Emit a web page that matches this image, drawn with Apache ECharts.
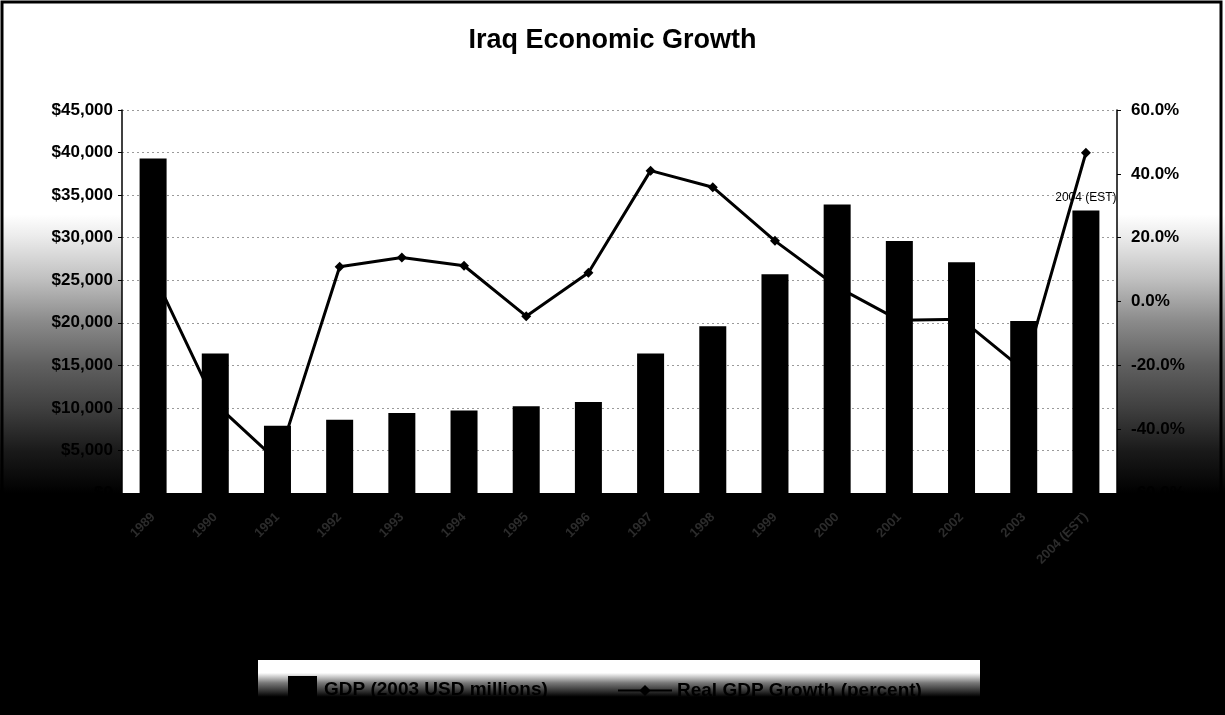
<!DOCTYPE html>
<html>
<head>
<meta charset="utf-8">
<script src="https://cdn.jsdelivr.net/npm/echarts@6/dist/echarts.min.js"></script>
<style>
html,body{margin:0;padding:0;background:#fff;}
#chart{width:1225px;height:715px;}
</style>
</head>
<body>
<div id="chart"></div>
<script>
var titleText = 'Iraq Economic Growth';
var categories = ['1989','1990','1991','1992','1993','1994','1995','1996','1997','1998','1999','2000','2001','2002','2003','2004 (EST)'];
var gdpName = 'GDP (2003 USD millions)';
var gdp = [39300, 16400, 7900, 8600, 9400, 9700, 10200, 10700, 16400, 19600, 25700, 33900, 29600, 27100, 20200, 33200];
var growthName = 'Real GDP Growth (percent)';
var growth = [9.0, -32.0, -50.0, 10.9, 13.8, 11.2, -4.6, 9.0, 41.0, 35.8, 19.0, 4.6, -5.9, -5.6, -21.5, 46.6];
var gdpTicks = {min: 0, max: 45000, interval: 5000};
var growthTicks = {min: -60, max: 60, interval: 20};

var FONT = 'Arial, "Liberation Sans", sans-serif';
var chart = echarts.init(document.getElementById('chart'));

var gdpData = gdp.map(function (v, i) {
  if (i === gdp.length - 1) {
    return {value: v, label: {show: true, position: 'top', distance: 7,
      formatter: categories[i], color: '#000', fontSize: 12, fontFamily: FONT}};
  }
  return v;
});

chart.setOption({
  backgroundColor: '#ffffff',
  animation: false,
  title: {
    text: titleText, left: 'center', top: 22,
    textStyle: {fontFamily: FONT, fontSize: 27, fontWeight: 'bold', color: '#000'}
  },
  graphic: [
    {type: 'rect', z: -100, silent: true, shape: {x: 0, y: 0, width: 1225, height: 715},
      style: {fill: {type: 'linear', x: 0, y: 0, x2: 0, y2: 1, global: false,
        colorStops: [
          {offset: 0, color: '#ffffff'},
          {offset: 0.30, color: '#ffffff'},
          {offset: 0.33, color: '#ececec'},
          {offset: 0.39, color: '#c0c0c0'},
          {offset: 0.45, color: '#8a8a8a'},
          {offset: 0.51, color: '#606060'},
          {offset: 0.57, color: '#404040'},
          {offset: 0.63, color: '#1a1a1a'},
          {offset: 0.69, color: '#000000'},
          {offset: 1, color: '#000000'}
        ]}}},
    {type: 'rect', z: -1, silent: true, shape: {x: 258, y: 660, width: 722, height: 46},
      style: {fill: {type: 'linear', x: 0, y: 0, x2: 0, y2: 1,
        colorStops: [{offset: 0, color: '#ffffff'}, {offset: 0.28, color: '#ffffff'},
          {offset: 0.5, color: '#777'}, {offset: 0.8, color: '#000'}, {offset: 1, color: '#000'}]}}},
    {type: 'rect', z: 100, silent: true, shape: {x: 2, y: 2, width: 1219, height: 710},
      style: {fill: 'none', stroke: '#000', lineWidth: 3}}
  ],
  legend: [
    {data: [gdpName], left: 283, top: 671, itemWidth: 29, itemHeight: 28, itemGap: 6,
      icon: 'rect',
      textStyle: {fontFamily: FONT, fontSize: 19, fontWeight: 'bold', color: '#000', padding: [0,0,0,2]}},
    {data: [growthName], left: 612, top: 676, itemWidth: 54, itemHeight: 14,
      textStyle: {fontFamily: FONT, fontSize: 19, fontWeight: 'bold', color: '#000'}}
  ],
  grid: {left: 122, right: 108, top: 110, bottom: 222, show: true, backgroundColor: '#ffffff', borderWidth: 0},
  xAxis: {
    type: 'category', data: categories,
    axisLine: {lineStyle: {color: '#000', width: 1}},
    axisTick: {show: false},
    axisLabel: {rotate: 45, margin: 22, color: '#2c2c2c', fontFamily: FONT, fontSize: 13, fontWeight: 'bold'}
  },
  yAxis: [
    {type: 'value', min: gdpTicks.min, max: gdpTicks.max, interval: gdpTicks.interval,
      axisLine: {show: true, lineStyle: {color: '#000', width: 1.5}},
      axisTick: {show: true, length: 4, lineStyle: {color: '#000'}},
      splitLine: {show: true, lineStyle: {color: '#9a9a9a', type: [2, 3], width: 1}},
      axisLabel: {margin: 9, color: '#000', fontFamily: FONT, fontSize: 17, fontWeight: 'bold',
        formatter: function (v) { return '$' + v.toLocaleString('en-US'); }}},
    {type: 'value', min: growthTicks.min, max: growthTicks.max, interval: growthTicks.interval,
      position: 'right',
      axisLine: {show: true, lineStyle: {color: '#000', width: 1.5}},
      axisTick: {show: true, length: 4, lineStyle: {color: '#000'}},
      splitLine: {show: false},
      axisLabel: {margin: 14, color: '#000', fontFamily: FONT, fontSize: 17, fontWeight: 'bold',
        formatter: function (v) { return v.toFixed(1) + '%'; }}}
  ],
  series: [
    {name: gdpName, type: 'bar', data: gdpData, yAxisIndex: 0, z: 3,
      barWidth: 27, itemStyle: {color: '#000'}},
    {name: growthName, type: 'line', data: growth, yAxisIndex: 1, z: 2,
      symbol: 'diamond', symbolSize: 10,
      lineStyle: {color: '#000', width: 3}, itemStyle: {color: '#000'}}
  ]
});
</script>
</body>
</html>
